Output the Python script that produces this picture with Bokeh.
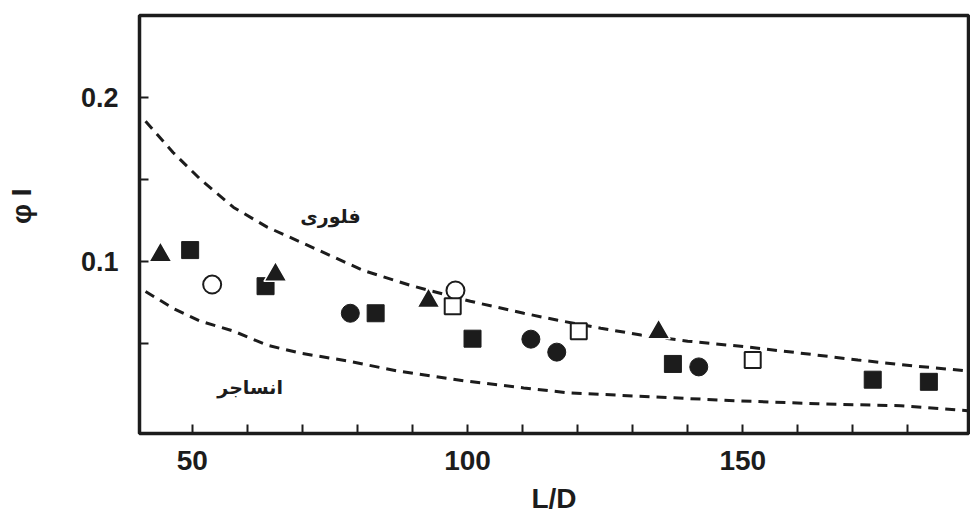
from bokeh.plotting import figure
from bokeh.models import FixedTicker, Range1d, Label
from bokeh.embed import file_html
from bokeh.resources import INLINE

# ---- data ----
tri_x = [44.2, 65.1, 92.9, 134.7]
tri_y = [0.104, 0.092, 0.076, 0.057]

sq_x = [49.6, 63.3, 83.3, 100.9, 137.3, 173.6, 183.8]
sq_y = [0.107, 0.085, 0.0685, 0.053, 0.0376, 0.028, 0.0267]

circ_x = [78.7, 111.5, 116.2, 142.0]
circ_y = [0.0685, 0.0527, 0.0448, 0.0358]

ocirc_x = [53.6, 97.8]
ocirc_y = [0.086, 0.0824]

osq_x = [97.3, 120.2, 151.8]
osq_y = [0.0727, 0.0576, 0.040]

upper_x = [41.5, 46.5, 51.5, 57.5, 63.6, 69.6, 75.1, 81.1, 89.6, 100.5, 110.2,
           116.4, 124.2, 131.5, 140.0, 150.9, 160.5, 170.9, 181.1, 190.9]
upper_y = [0.1855, 0.1665, 0.150, 0.133, 0.121, 0.112, 0.1036, 0.0945, 0.0855,
           0.0758, 0.0685, 0.0642, 0.0594, 0.0552, 0.0515, 0.0479, 0.0442,
           0.040, 0.0364, 0.0333]

lower_x = [41.5, 46.5, 51.5, 57.5, 63.6, 69.6, 78.2, 87.3, 99.3, 110.2, 118.2,
           133.3, 148.4, 163.6, 178.7, 190.9]
lower_y = [0.0818, 0.0715, 0.0636, 0.0576, 0.049, 0.0442, 0.0394, 0.0333,
           0.0273, 0.023, 0.020, 0.0176, 0.0152, 0.0133, 0.0121, 0.0091]

x_major = [50, 100, 150]
x_minor = [60, 70, 80, 90, 110, 120, 130, 140, 160, 170, 180]
y_major = [0.1, 0.2]
y_minor = [0.05, 0.15]

upper_label = "فلوری"
lower_label = "انساجر"

INK = "#1c1c1c"

p = figure(width=970, height=516, output_backend="svg", toolbar_location=None,
           x_range=Range1d(40.4, 191.0), y_range=Range1d(-0.0048, 0.250),
           min_border_left=139, min_border_right=2, min_border_top=15,
           min_border_bottom=80)

p.background_fill_color = "white"
p.border_fill_color = "white"
p.outline_line_color = INK
p.outline_line_width = 3.5
p.xgrid.visible = False
p.ygrid.visible = False

# dashed curves
p.line(upper_x, upper_y, line_color=INK, line_width=3, line_dash="10 7")
p.line(lower_x, lower_y, line_color=INK, line_width=3, line_dash="10 7")

# markers
p.scatter(ocirc_x, ocirc_y, marker="circle", size=18, fill_color="white",
          line_color=INK, line_width=2)
p.scatter(osq_x, osq_y, marker="square", size=16, fill_color="white",
          line_color=INK, line_width=2)
p.scatter(circ_x, circ_y, marker="circle", size=18, fill_color=INK,
          line_color=INK, line_width=1)
p.scatter(sq_x, sq_y, marker="square", size=17, fill_color=INK,
          line_color=INK, line_width=1)
p.scatter(tri_x, tri_y, marker="triangle", size=23, fill_color=INK,
          line_color="white", line_width=1.5)

# curve labels
p.add_layout(Label(x=75.1, y=0.128, text=upper_label, text_align="center",
                   text_baseline="middle", text_font="DejaVu Sans",
                   text_font_style="bold", text_font_size="19px",
                   text_color=INK))
p.add_layout(Label(x=60.5, y=0.0236, text=lower_label, text_align="center",
                   text_baseline="middle", text_font="DejaVu Sans",
                   text_font_style="bold", text_font_size="19px",
                   text_color=INK))

# axes
xa = p.xaxis[0]
xa.ticker = FixedTicker(ticks=x_major, minor_ticks=x_minor)
xa.axis_line_color = None
xa.major_tick_in = 9
xa.major_tick_out = 0
xa.minor_tick_in = 9
xa.minor_tick_out = 0
xa.major_tick_line_width = 2
xa.minor_tick_line_width = 2
xa.major_tick_line_color = INK
xa.minor_tick_line_color = INK
xa.major_label_text_font = "Liberation Sans"
xa.major_label_text_font_style = "bold"
xa.major_label_text_font_size = "28px"
xa.major_label_text_color = INK
xa.major_label_standoff = 17
xa.axis_label = "L/D"
xa.axis_label_text_font = "Liberation Sans"
xa.axis_label_text_font_style = "bold"
xa.axis_label_text_font_size = "28px"
xa.axis_label_text_color = INK
xa.axis_label_standoff = 10

ya = p.yaxis[0]
ya.ticker = FixedTicker(ticks=y_major, minor_ticks=y_minor)
ya.axis_line_color = None
ya.major_tick_in = 9
ya.major_tick_out = 0
ya.minor_tick_in = 9
ya.minor_tick_out = 0
ya.major_tick_line_width = 2
ya.minor_tick_line_width = 2
ya.major_tick_line_color = INK
ya.minor_tick_line_color = INK
ya.major_label_text_font = "Liberation Sans"
ya.major_label_text_font_style = "bold"
ya.major_label_text_font_size = "27px"
ya.major_label_text_color = INK
ya.major_label_standoff = 21
ya.axis_label = "\u00a0\u00a0\u00a0\u00a0\u2009φ I"
ya.axis_label_text_font = "Liberation Sans"
ya.axis_label_text_font_style = "bold"
ya.axis_label_text_font_size = "28px"
ya.axis_label_text_color = INK
ya.axis_label_standoff = 41

open("out.html", "w").write(file_html(p, INLINE))
